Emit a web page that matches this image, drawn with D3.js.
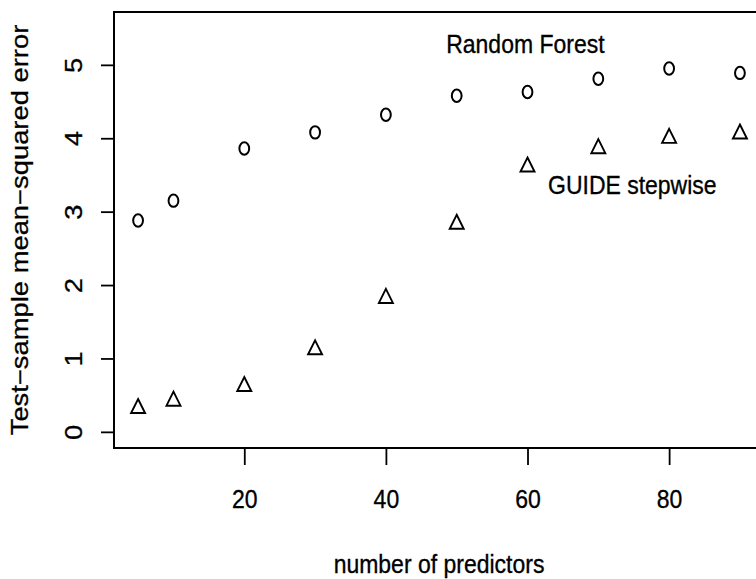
<!DOCTYPE html>
<html>
<head>
<meta charset="utf-8">
<script src="https://cdn.jsdelivr.net/npm/d3@7"></script>
<style>
  body { margin: 0; background: #fff; }
  svg { display: block; }
  text { font-family: "Liberation Sans", Arial, Helvetica, sans-serif; fill: #000; stroke: #000; stroke-width: 0.3px; }
</style>
</head>
<body>
<div id="chart"></div>
<script>

var width = 756;
var height = 579;

// data
var predictors    = [5, 10, 20, 30, 40, 50, 60, 70, 80, 90];
var randomForest  = [2.88, 3.15, 3.86, 4.08, 4.32, 4.58, 4.63, 4.81, 4.95, 4.89];
var guideStepwise = [0.32, 0.42, 0.62, 1.12, 1.82, 2.83, 3.61, 3.86, 4.00, 4.06];
var xTicks = [20, 40, 60, 80];
var yTicks = [0, 1, 2, 3, 4, 5];
var labelText = ["Random Forest", "GUIDE stepwise"];
var labelX = [59.7, 74.8];
var labelY = [5.28, 3.36];

var S = 1.1;        // the scan is a bit stretched vertically
var Sr = 1.19;      // rotated text gets it along its length
var fs = 23;

var svg = d3.select("#chart").append("svg")
    .attr("width", width)
    .attr("height", height);

var xScale = d3.scaleLinear().domain([1.6, 93.4]).range([114, 764]);
var yScale = d3.scaleLinear().domain([-0.22, 5.72]).range([448, 12]);

// frame
svg.append("rect")
    .attr("x", xScale.range()[0])
    .attr("y", yScale.range()[1])
    .attr("width", xScale.range()[1] - xScale.range()[0])
    .attr("height", yScale.range()[0] - yScale.range()[1])
    .attr("fill", "none")
    .attr("stroke", "#000")
    .attr("stroke-width", 2);

// x axis
var gx = svg.append("g")
    .attr("transform", "translate(0," + yScale.range()[0] + ")")
    .call(d3.axisBottom(xScale).tickValues(xTicks).tickSize(17).tickSizeOuter(0).tickFormat(d3.format("d")));
gx.select(".domain").remove();
gx.selectAll("line").attr("stroke", "#000").attr("stroke-width", 1.8);
gx.selectAll("text").remove();
gx.selectAll(".tick").append("text")
    .attr("transform", "translate(0,60) scale(1," + S + ")")
    .attr("text-anchor", "middle")
    .style("font-size", fs + "px")
    .text(function(d) { return d; });

// y axis
var gy = svg.append("g")
    .attr("transform", "translate(" + xScale.range()[0] + ",0)")
    .call(d3.axisLeft(yScale).tickValues(yTicks).tickSize(13).tickSizeOuter(0));
gy.select(".domain").remove();
gy.selectAll("line").attr("stroke", "#000").attr("stroke-width", 1.8);
gy.selectAll("text").remove();
gy.selectAll(".tick").append("text")
    .attr("transform", "translate(-32,0) scale(1," + Sr + ") rotate(-90)")
    .attr("text-anchor", "middle")
    .style("font-size", fs + "px")
    .text(function(d) { return d; });

// axis titles
svg.append("text")
    .attr("transform", "translate(" + (xScale.range()[0] + xScale.range()[1]) / 2 + ",573) scale(1," + S + ")")
    .attr("text-anchor", "middle")
    .style("font-size", fs + "px")
    .text("number of predictors");

svg.append("text")
    .attr("transform", "translate(28," + (yScale.range()[0] + yScale.range()[1]) / 2 + ") scale(1," + Sr + ") rotate(-90)")
    .attr("text-anchor", "middle")
    .style("font-size", fs + "px")
    .text("Test\u2212sample mean\u2212squared error");

// Random Forest: open circles
svg.selectAll(".rf")
    .data(predictors)
    .enter().append("ellipse")
    .attr("class", "rf")
    .attr("cx", function(d) { return xScale(d); })
    .attr("cy", function(d, i) { return yScale(randomForest[i]); })
    .attr("rx", 4.9)
    .attr("ry", 6.2)
    .attr("fill", "none")
    .attr("stroke", "#000")
    .attr("stroke-width", 2);

// GUIDE stepwise: open triangles, centroid on the point
var tw = 7, th = 14;
svg.selectAll(".gs")
    .data(predictors)
    .enter().append("path")
    .attr("class", "gs")
    .attr("d", function(d, i) {
        var x = xScale(d), y = yScale(guideStepwise[i]);
        return "M" + x + "," + (y - th * 2 / 3) +
               "L" + (x + tw) + "," + (y + th / 3) +
               "L" + (x - tw) + "," + (y + th / 3) + "Z";
    })
    .attr("fill", "none")
    .attr("stroke", "#000")
    .attr("stroke-width", 1.9)
    .attr("stroke-linejoin", "miter");

// series labels
svg.selectAll(".lbl")
    .data(labelText)
    .enter().append("text")
    .attr("class", "lbl")
    .attr("transform", function(d, i) {
        return "translate(" + xScale(labelX[i]) + "," + yScale(labelY[i]) + ") scale(1," + S + ")";
    })
    .attr("dy", "0.36em")
    .attr("text-anchor", "middle")
    .style("font-size", fs + "px")
    .text(function(d) { return d; });

</script>
</body>
</html>
